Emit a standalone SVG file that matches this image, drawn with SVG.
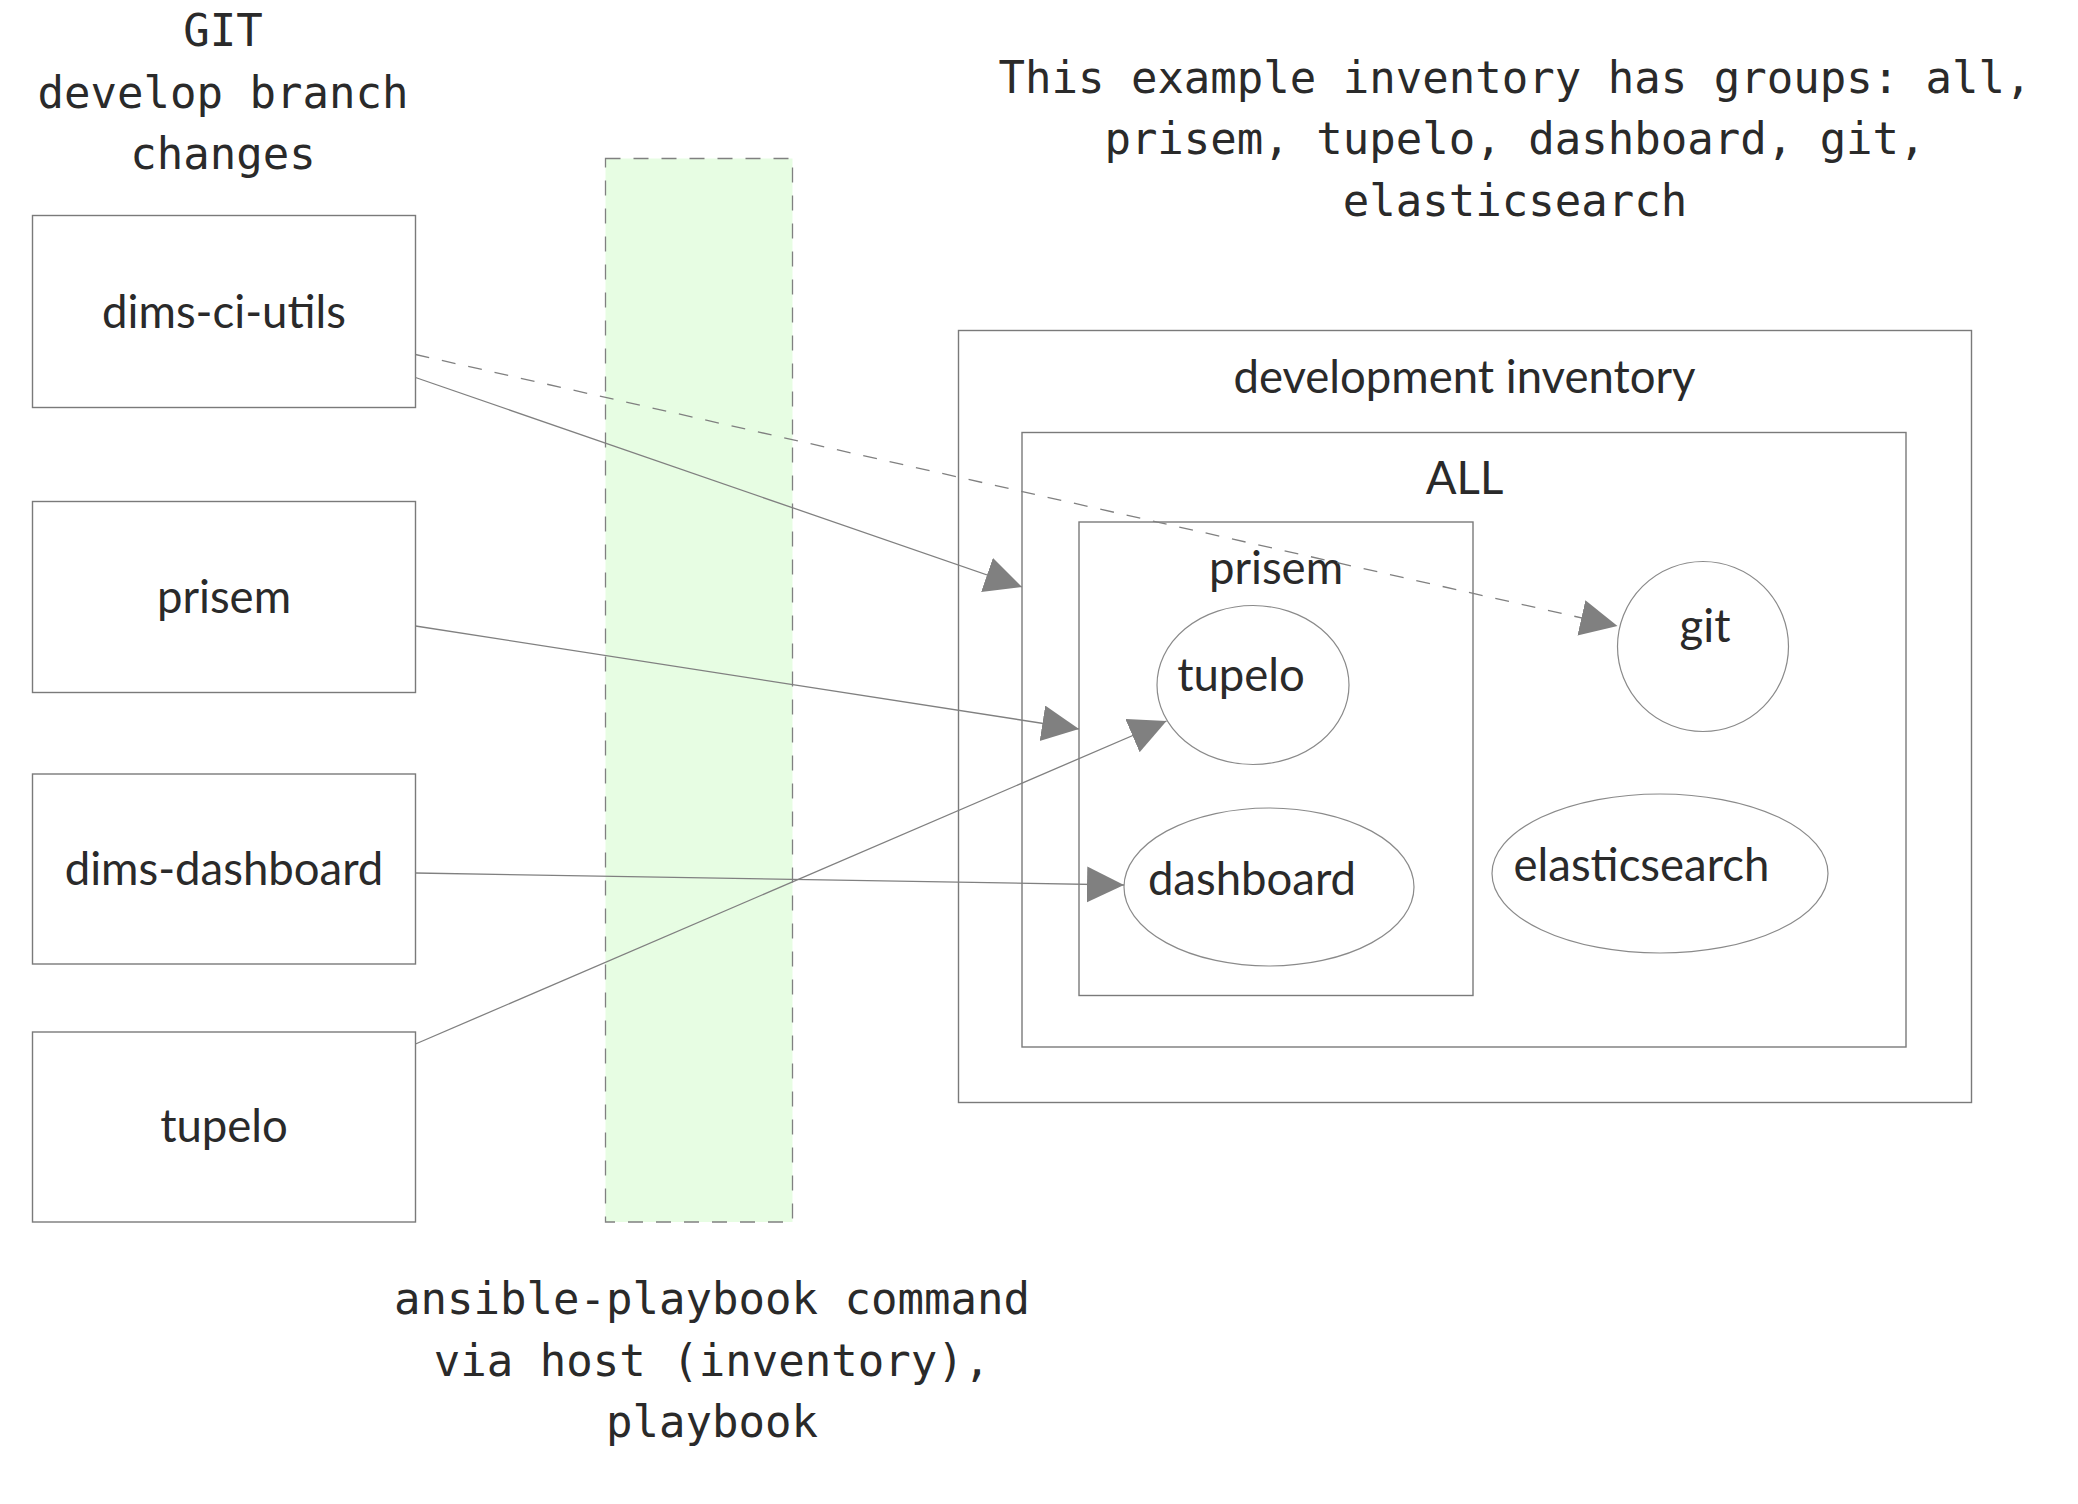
<svg xmlns="http://www.w3.org/2000/svg" width="2078" height="1504" viewBox="0 0 2078 1504">
<style>
  .mono { font-family: "DejaVu Sans Mono", "Liberation Mono", monospace; font-size: 44px; fill: #2a2a2a; text-anchor: middle; }
  .lbl { font-family: Lato, "Open Sans", "Liberation Sans", sans-serif; font-size: 45.5px; fill: #2a2a2a; text-anchor: middle; }
  .box { fill: #ffffff; stroke: #7a7a7a; stroke-width: 1.4; }
  .grp { fill: none; stroke: #7a7a7a; stroke-width: 1.4; }
  .ell { fill: #ffffff; stroke: #8a8a8a; stroke-width: 1.2; }
  .conn { fill: none; stroke: #808080; stroke-width: 1.3; marker-end: url(#arrow); }
  .dash { stroke-dasharray: 14 13; }
</style>
<defs>
  <marker id="arrow" markerUnits="userSpaceOnUse" markerWidth="38" markerHeight="38" refX="37" refY="18" orient="auto">
    <path d="M0,0 L37,18 L0,36 Z" fill="#808080"/>
  </marker>
</defs>
<rect width="2078" height="1504" fill="#ffffff"/>

<g id="title-git">
  <text class="mono" x="223" y="46">GIT</text>
  <text class="mono" x="223" y="107.5">develop branch</text>
  <text class="mono" x="223" y="169">changes</text>
</g>

<g id="title-inventory">
  <text class="mono" x="1515" y="92.5">This example inventory has groups: all,</text>
  <text class="mono" x="1515" y="154">prisem, tupelo, dashboard, git,</text>
  <text class="mono" x="1515" y="215.5">elasticsearch</text>
</g>

<g id="ansible-column">
  <rect x="605.5" y="158.5" width="187" height="1063.5" fill="#e7fde3" stroke="#808080" stroke-width="1.3" stroke-dasharray="15 13"/>
</g>

<g id="title-ansible">
  <text class="mono" x="712" y="1314">ansible-playbook command</text>
  <text class="mono" x="712" y="1375.5">via host (inventory),</text>
  <text class="mono" x="712" y="1437">playbook</text>
</g>

<g id="node-dims-ci-utils">
  <rect class="box" x="32.5" y="215.5" width="383" height="192"/>
  <text class="lbl" x="224" y="328">dims-ci-utils</text>
</g>
<g id="node-prisem">
  <rect class="box" x="32.5" y="501.5" width="383" height="191"/>
  <text class="lbl" x="224" y="613">prisem</text>
</g>
<g id="node-dims-dashboard">
  <rect class="box" x="32.5" y="774" width="383" height="190"/>
  <text class="lbl" x="224" y="884.5">dims-dashboard</text>
</g>
<g id="node-tupelo">
  <rect class="box" x="32.5" y="1032" width="383" height="190"/>
  <text class="lbl" x="224" y="1141.5">tupelo</text>
</g>

<g id="group-development-inventory">
  <rect class="grp" x="958.5" y="330.5" width="1013" height="772"/>
  <text class="lbl" x="1464.5" y="393">development inventory</text>
</g>
<g id="group-all">
  <rect class="grp" x="1022" y="432.5" width="884" height="614.5"/>
  <text class="lbl" x="1464.5" y="494">ALL</text>
</g>
<g id="group-prisem">
  <rect class="grp" x="1079" y="522" width="394" height="473.5"/>
  <text class="lbl" x="1276" y="584">prisem</text>
</g>
<g id="host-tupelo">
  <ellipse class="ell" cx="1253" cy="685" rx="96" ry="79.5"/>
  <text class="lbl" x="1241" y="691">tupelo</text>
</g>
<g id="host-dashboard">
  <ellipse class="ell" cx="1269" cy="887" rx="145" ry="79"/>
  <text class="lbl" x="1252" y="895">dashboard</text>
</g>
<g id="host-git">
  <ellipse class="ell" cx="1703" cy="646.5" rx="85.5" ry="85"/>
  <text class="lbl" x="1705" y="642">git</text>
</g>
<g id="host-elasticsearch">
  <ellipse class="ell" cx="1660" cy="873.5" rx="168" ry="79.5"/>
  <text class="lbl" x="1641.5" y="881">elasticsearch</text>
</g>

<g id="connectors">
  <line class="conn" x1="415.5" y1="377.5" x2="1022" y2="587"/>
  <line class="conn dash" x1="415.5" y1="354.5" x2="1617.5" y2="626"/>
  <line class="conn" x1="415.5" y1="626" x2="1079" y2="729"/>
  <line class="conn" x1="415.5" y1="873" x2="1124" y2="885"/>
  <line class="conn" x1="415.5" y1="1044" x2="1166.5" y2="721"/>
</g>
</svg>
